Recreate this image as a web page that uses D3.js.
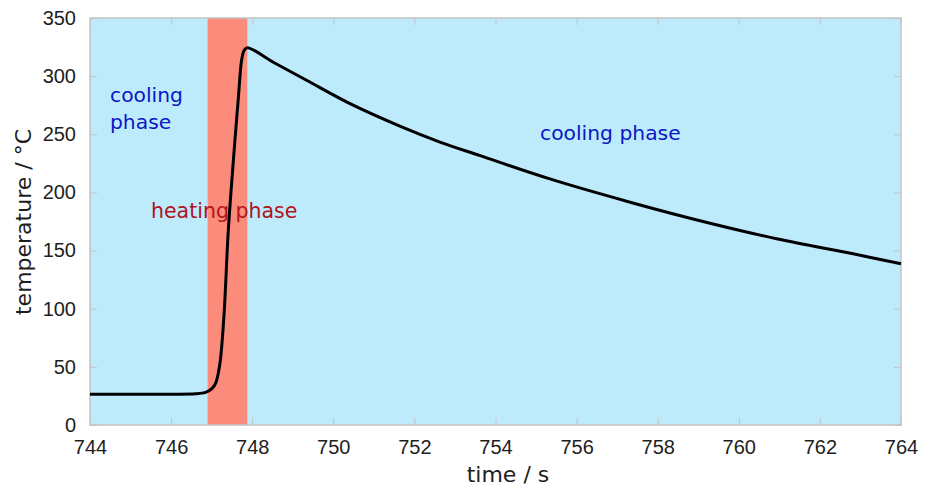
<!DOCTYPE html>
<html>
<head>
<meta charset="utf-8">
<script src="https://cdn.jsdelivr.net/npm/d3@7"></script>
<style>
  body { margin: 0; background: #fff; }
  svg { display: block; }
</style>
</head>
<body>
<div id="chart"></div>
<script>
// Measured temperature trace (time in s, temperature in °C)
const timeValues = [744, 745, 746, 746.6, 746.85, 747.0, 747.1, 747.2, 747.3, 747.41, 747.53,
  747.66, 747.74, 747.8, 747.88, 748.52, 749.34, 750.49, 751.64, 752.63, 753.62, 755.34,
  757.32, 759.29, 760.93, 762.82, 764];
const tempValues = [26.5, 26.5, 26.5, 26.8, 28, 31, 36, 52, 92, 167, 225,
  282, 314, 322, 324.5, 312, 296.5, 275, 257, 243.3, 231.6, 211.6,
  191.6, 173.5, 160.2, 147.2, 138.7];

// phase bands
const heatingStart = 746.9;
const heatingEnd = 747.88;

const xTicks = [744, 746, 748, 750, 752, 754, 756, 758, 760, 762, 764];
const yTicks = [0, 50, 100, 150, 200, 250, 300, 350];

const width = 931, height = 488;
const margin = { top: 18, right: 30, bottom: 63, left: 90 };
const innerW = width - margin.left - margin.right;
const innerH = height - margin.top - margin.bottom;

const svg = d3.select('#chart').append('svg')
  .attr('width', width)
  .attr('height', height);

const g = svg.append('g')
  .attr('transform', `translate(${margin.left},${margin.top})`);

const x = d3.scaleLinear().domain([744, 764]).range([0, innerW]);
const y = d3.scaleLinear().domain([0, 350]).range([innerH, 0]);

// background = cooling phase
g.append('rect')
  .attr('width', innerW).attr('height', innerH)
  .attr('fill', '#bdebfc');

// heating phase band
g.append('rect')
  .attr('x', x(heatingStart))
  .attr('width', x(heatingEnd) - x(heatingStart))
  .attr('height', innerH)
  .attr('fill', '#fb8b7a');

// phase labels
g.append('text')
  .attr('x', 110 - margin.left).attr('y', 102 - margin.top)
  .attr('font-family', 'DejaVu Sans').attr('font-size', 20.3)
  .attr('fill', '#0c16c4')
  .selectAll('tspan').data(['cooling', 'phase']).enter().append('tspan')
  .attr('x', 110 - margin.left)
  .attr('dy', (d, i) => i === 0 ? 0 : 27)
  .text(d => d);

g.append('text')
  .attr('x', 540 - margin.left).attr('y', 140 - margin.top)
  .attr('font-family', 'DejaVu Sans').attr('font-size', 20.3)
  .attr('fill', '#0c16c4')
  .text('cooling phase');

g.append('text')
  .attr('x', 151 - margin.left).attr('y', 218 - margin.top)
  .attr('font-family', 'DejaVu Sans').attr('font-size', 20.5)
  .attr('fill', '#b0141c')
  .text('heating phase');

// axes: inward light-grey ticks on all four sides
const tickColor = '#c4c4c4';
const tickLen = 7;

function styleAxis(sel) {
  sel.select('.domain').remove();
  sel.selectAll('.tick line').attr('stroke', tickColor);
  sel.selectAll('.tick text')
    .attr('font-family', 'Liberation Sans, Arial, sans-serif')
    .attr('font-size', 20)
    .attr('fill', '#1e1e1e');
}

g.append('g')
  .attr('transform', `translate(0,${innerH})`)
  .call(d3.axisBottom(x).tickValues(xTicks).tickFormat(d3.format('d'))
    .tickSizeInner(-tickLen).tickSizeOuter(0).tickPadding(15))
  .call(styleAxis);

g.append('g')
  .call(d3.axisTop(x).tickValues(xTicks).tickFormat('')
    .tickSizeInner(-tickLen).tickSizeOuter(0))
  .call(styleAxis);

g.append('g')
  .call(d3.axisLeft(y).tickValues(yTicks)
    .tickSizeInner(-tickLen).tickSizeOuter(0).tickPadding(14))
  .call(styleAxis);

g.append('g')
  .attr('transform', `translate(${innerW},0)`)
  .call(d3.axisRight(y).tickValues(yTicks).tickFormat('')
    .tickSizeInner(-tickLen).tickSizeOuter(0))
  .call(styleAxis);

// frame
g.append('rect')
  .attr('width', innerW).attr('height', innerH)
  .attr('fill', 'none')
  .attr('stroke', tickColor)
  .attr('stroke-width', 1.5);

// temperature curve
const points = timeValues.map((t, i) => [t, tempValues[i]]);
const line = d3.line()
  .x(d => x(d[0]))
  .y(d => y(d[1]))
  .curve(d3.curveCatmullRom.alpha(0.5));

g.append('path')
  .datum(points)
  .attr('d', line)
  .attr('fill', 'none')
  .attr('stroke', '#000')
  .attr('stroke-width', 3)
  .attr('stroke-linejoin', 'round');

// axis labels
svg.append('text')
  .attr('x', 508).attr('y', 482)
  .attr('text-anchor', 'middle')
  .attr('font-family', 'DejaVu Sans').attr('font-size', 22)
  .attr('fill', '#1e1e1e')
  .text('time / s');

svg.append('text')
  .attr('transform', 'translate(31,222) rotate(-90)')
  .attr('text-anchor', 'middle')
  .attr('font-family', 'DejaVu Sans').attr('font-size', 22)
  .attr('fill', '#1e1e1e')
  .text('temperature / °C');
</script>
</body>
</html>
